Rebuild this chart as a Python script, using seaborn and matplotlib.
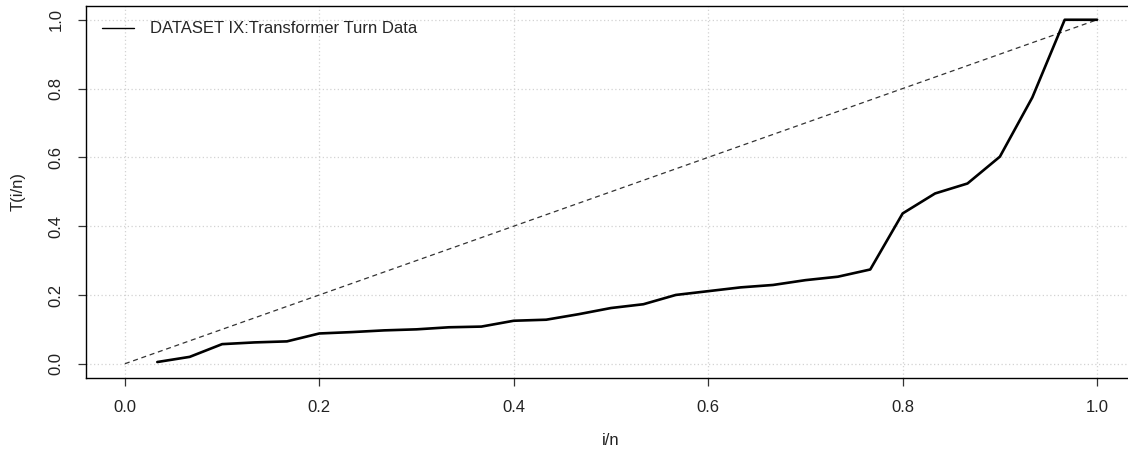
import numpy as np
import pandas as pd
import matplotlib
matplotlib.use("Agg")
import matplotlib.pyplot as plt
from matplotlib.lines import Line2D
import seaborn as sns

# Data
i_over_n = [k / 30 for k in range(1, 31)]
ttt_values = [0.005, 0.020, 0.057, 0.062, 0.065, 0.088, 0.092, 0.097, 0.100, 0.106,
              0.108, 0.125, 0.128, 0.144, 0.162, 0.173, 0.200, 0.211, 0.222, 0.229,
              0.243, 0.253, 0.274, 0.437, 0.495, 0.524, 0.602, 0.774, 1.000, 1.000]
diag_x = [0.0, 1.0]
diag_y = [0.0, 1.0]
x_ticks = [0.0, 0.2, 0.4, 0.6, 0.8, 1.0]
y_ticks = [0.0, 0.2, 0.4, 0.6, 0.8, 1.0]
legend_label = "DATASET IX:Transformer Turn Data"

sns.set_style("white")
plt.rcParams['font.family'] = ['Liberation Sans', 'DejaVu Sans']

W, H = 1128, 455
fig = plt.figure(figsize=(W / 100, H / 100), dpi=100)
left, right, top, bottom = 86, 1136, 6, 377.5
ax = fig.add_axes([left / W, (H - bottom) / H, (right - left) / W, (bottom - top) / H])

df = pd.DataFrame({"x": i_over_n, "y": ttt_values})
sns.lineplot(data=df, x="x", y="y", ax=ax, color="black", lw=1.9, zorder=3)
sns.lineplot(x=diag_x, y=diag_y, ax=ax, color="#333333", lw=0.9, dashes=False, zorder=2)
ax.lines[-1].set_dashes((4, 3))

ax.set_xlim(-0.04, 1.04)
ax.set_ylim(-0.04, 1.04)
ax.set_xticks(x_ticks)
ax.set_yticks(y_ticks)
ax.set_xticklabels([f"{v:.1f}" for v in x_ticks])
ax.set_yticklabels([f"{v:.1f}" for v in y_ticks], rotation=90, va="center")

for xv in x_ticks:
    ax.axvline(xv, color="#d3d3d3", lw=0.9, ls=(0, (1, 2)), zorder=1)
for yv in y_ticks:
    ax.axhline(yv, color="#d3d3d3", lw=0.9, ls=(0, (1, 2)), zorder=1)

for s in ax.spines.values():
    s.set_visible(True)
    s.set_color("black")
    s.set_linewidth(1.0)

ax.tick_params(axis="both", direction="out", length=6, width=0.9, color="#333333",
               labelsize=12, labelcolor="#222222", pad=10, bottom=True, left=True)
ax.tick_params(axis="y", pad=10)

ax.set_xlabel("i/n", fontsize=12, color="#222222", labelpad=13)
ax.set_ylabel("T(i/n)", fontsize=12, color="#222222", labelpad=17)

handle = Line2D([0], [0], color="black", lw=1.0)
ax.legend([handle], [legend_label], loc="upper left", frameon=False, fontsize=12,
          handlelength=1.9, handletextpad=1.0, borderaxespad=0.3,
          bbox_to_anchor=(0.004, 0.99))

fig.savefig("out.png", dpi=100)
